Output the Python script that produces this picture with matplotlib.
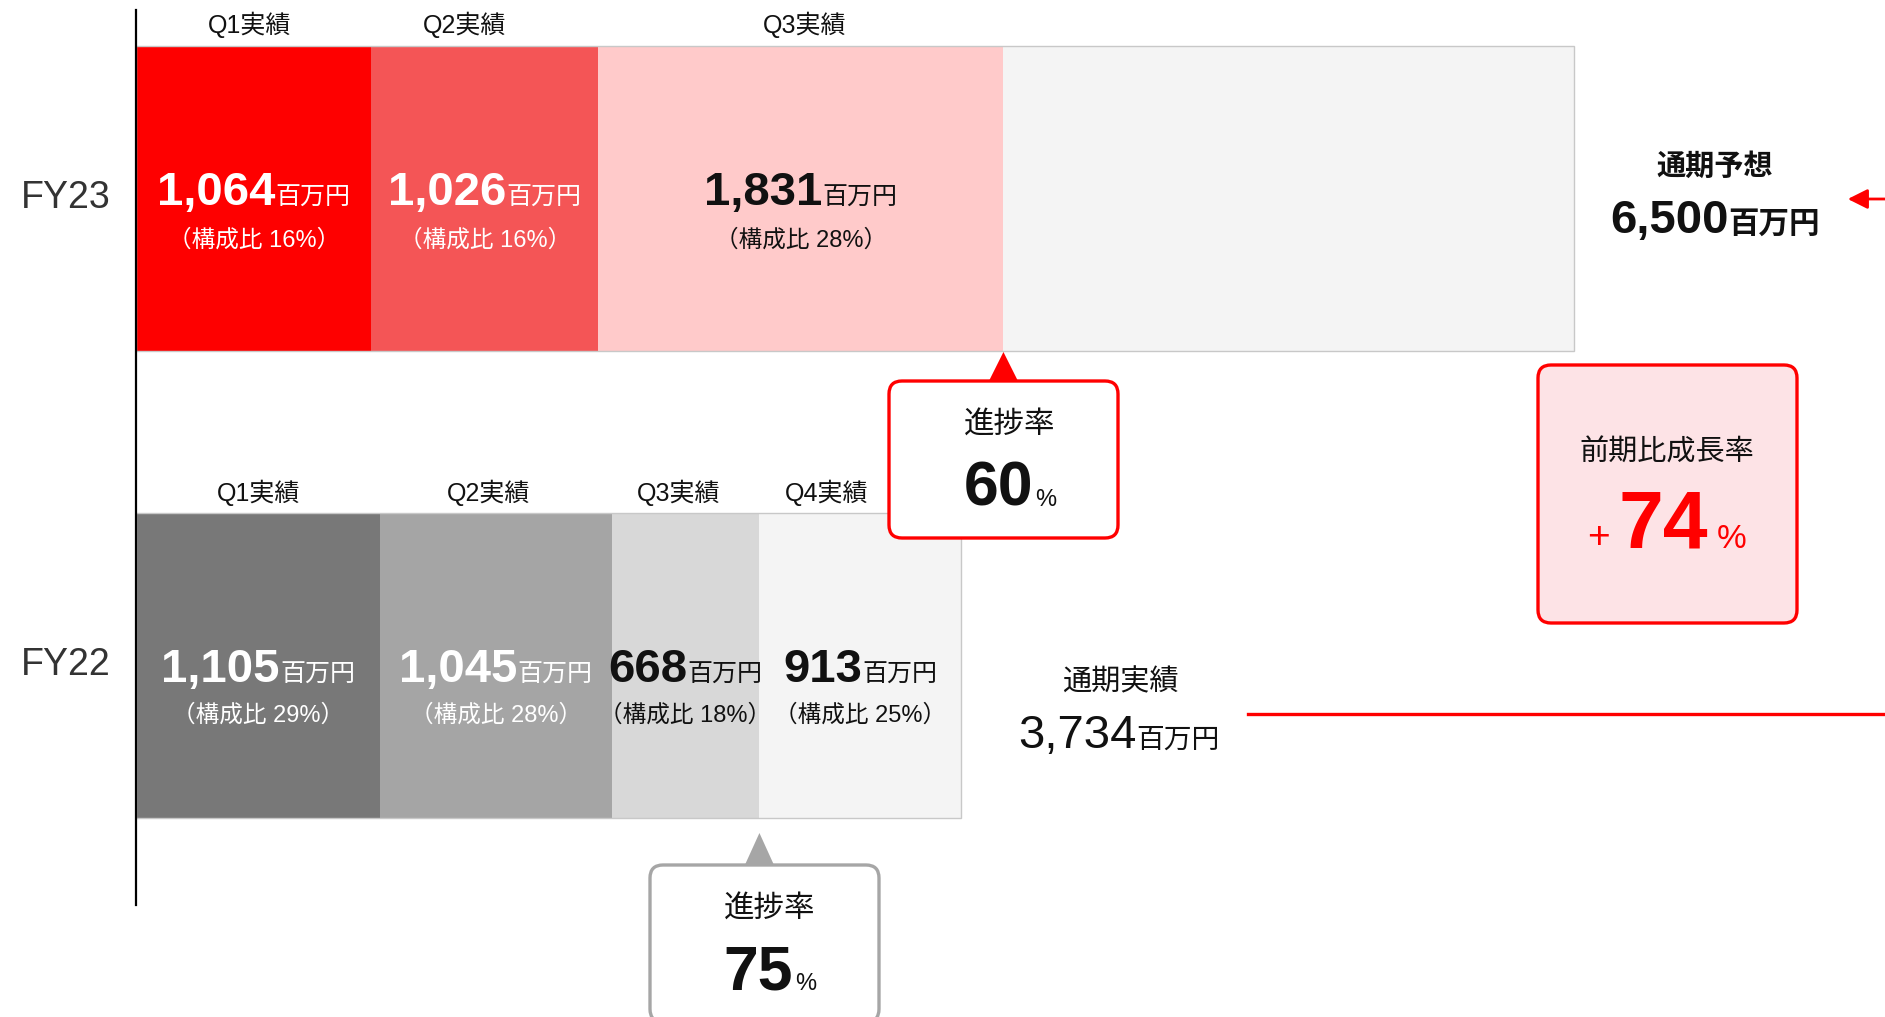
import matplotlib
matplotlib.use('Agg')
import matplotlib.pyplot as plt
from matplotlib.patches import FancyBboxPatch, Polygon

plt.rcParams['font.family'] = ['Liberation Sans', 'Noto Sans CJK JP']

# データ（単位：百万円）
fy23_labels = ['Q1実績', 'Q2実績', 'Q3実績']
fy23_values = [1064, 1026, 1831]
fy23_share = [16, 16, 28]
fy23_forecast = 6500
fy23_progress = 60

fy22_labels = ['Q1実績', 'Q2実績', 'Q3実績', 'Q4実績']
fy22_values = [1105, 1045, 668, 913]
fy22_share = [29, 28, 18, 25]
fy22_total = 3734
fy22_progress = 75

growth_rate = 74

# 色
fy23_colors = ['#fe0000', '#f45556', '#ffcaca']
fy23_text = ['white', 'white', '#111111']
fy22_colors = ['#787878', '#a5a5a5', '#d8d8d8', '#f4f4f4']
fy22_text = ['white', 'white', '#111111', '#111111']
rest_color = '#f4f4f4'

fig = plt.figure(figsize=(18.85, 10.17), dpi=100)
# 棒グラフ用（x は百万円、y はピクセル）
ax = fig.add_axes([0, 0, 1, 1])
k = (1574 - 136) / fy23_forecast
ax.set_xlim(-136 / k, (1885 - 136) / k)
ax.set_ylim(1017, 0)
ax.axis('off')
# 注記用（ピクセル座標）
ov = fig.add_axes([0, 0, 1, 1])
ov.set_xlim(0, 1885)
ov.set_ylim(1017, 0)
ov.axis('off')

r = fig.canvas.get_renderer()


def group(axis, cx, y, parts, gap=0):
    # 大小の文字を並べて中央揃え
    texts, widths = [], []
    for s, size, weight, color in parts:
        t = axis.text(cx, y, s, fontsize=size, fontweight=weight, color=color,
                      ha='left', va='baseline', zorder=10)
        texts.append(t)
        widths.append(t.get_window_extent(r).width)
    total = sum(widths) + gap * (len(parts) - 1)
    x0, y0 = axis.transData.transform((cx, y))
    start = x0 - total / 2
    inv = axis.transData.inverted()
    for t, w in zip(texts, widths):
        t.set_x(inv.transform((start, y0))[0])
        start += w + gap


def stacked(yc, values, colors, tcolors, labels, shares, label_y, dy_val, dy_share, label_dx):
    left = 0
    for i, v in enumerate(values):
        ax.barh(yc, v, left=left, height=305, color=colors[i], edgecolor='none', zorder=2)
        cx = left + v / 2
        group(ax, cx, yc + dy_val, [(f'{v:,}', 34, 'bold', tcolors[i]),
                                    ('百万円', 18, 'normal', tcolors[i])])
        ax.text(cx, yc + dy_share, f'（構成比 {shares[i]}%）', fontsize=17,
                color=tcolors[i], ha='center', va='center', zorder=10)
        ax.text(cx + label_dx[i] / k, label_y, labels[i], fontsize=18, color='#111111',
                ha='center', va='center')
        left += v
    return left


y23, y22 = 198.5, 665
done23 = stacked(y23, fy23_values, fy23_colors, fy23_text, fy23_labels, fy23_share,
                 25, 6, 42, [-4, -20, 4])
ax.barh(y23, fy23_forecast - done23, left=done23, height=305, color=rest_color,
        edgecolor='none', zorder=2)
ax.barh(y23, fy23_forecast, height=305, fill=False, edgecolor='#c8c8c8', lw=1, zorder=3)

done22 = stacked(y22, fy22_values, fy22_colors, fy22_text, fy22_labels, fy22_share,
                 493, 17, 50, [0, -7, -7, -34])
ax.barh(y22, done22, height=305, fill=False, edgecolor='#c8c8c8', lw=1, zorder=3)

# 縦軸線
ax.plot([0, 0], [10, 905], color='black', lw=1.6, zorder=4)
ax.text(-70 / k, y23, 'FY23', fontsize=27, color='#333333', ha='center', va='center')
ax.text(-70 / k, y22, 'FY22', fontsize=27, color='#333333', ha='center', va='center')

# 通期予想
ov.text(1715, 167, '通期予想', fontsize=21, fontweight='bold', color='#111111',
        ha='center', va='center')
group(ov, 1715, 233, [(f'{fy23_forecast:,}', 34, 'bold', '#111111'),
                      ('百万円', 22, 'bold', '#111111')])
ov.annotate('', xy=(1845, 199), xytext=(1890, 199),
            arrowprops=dict(arrowstyle='-|>', color='red', lw=2, mutation_scale=30))

# 前期比成長率
ov.add_patch(FancyBboxPatch((1538, 365), 259, 258, boxstyle='round,pad=0,rounding_size=13',
                            facecolor='#fde3e6', edgecolor='red', lw=2.4, zorder=5))
ov.text(1667, 453, '前期比成長率', fontsize=21, color='#111111', ha='center', va='center', zorder=10)
group(ov, 1667, 548, [('+', 28, 'normal', 'red'), (f'{growth_rate}', 58, 'bold', 'red'),
                      ('%', 24, 'normal', 'red')], gap=9)

# 通期実績
ov.text(1120, 682, '通期実績', fontsize=21, color='#111111', ha='center', va='center')
group(ov, 1119, 748, [(f'{fy22_total:,}', 34, 'normal', '#111111'),
                      ('百万円', 20, 'normal', '#111111')])
ov.plot([1248, 1885], [714, 714], color='red', lw=2.4)


def callout(tip_val, tip_y, box_x, box_y, color, pct, text_x):
    tip = ax.transData.transform((tip_val, 0))[0]
    ov.add_patch(FancyBboxPatch((box_x, box_y), 229, 157, boxstyle='round,pad=0,rounding_size=13',
                                facecolor='white', edgecolor=color, lw=2.4, zorder=6))
    ov.add_patch(Polygon([(tip, tip_y), (tip - 15, box_y + 1), (tip + 15, box_y + 1)],
                         closed=True, facecolor=color, edgecolor='none', zorder=7))
    ov.text(text_x, box_y + 45, '進捗率', fontsize=22, color='#111111', ha='center', va='center', zorder=10)
    group(ov, text_x, box_y + 125, [(f'{pct}', 45, 'bold', '#111111'),
                                    ('%', 17, 'normal', '#111111')], gap=2)


callout(sum(fy23_values), 352, 889, 381, 'red', fy23_progress, 1010)
callout(sum(fy22_values[:3]), 833, 650, 865, '#a6a6a6', fy22_progress, 770)

fig.savefig('out.png', dpi=100)
